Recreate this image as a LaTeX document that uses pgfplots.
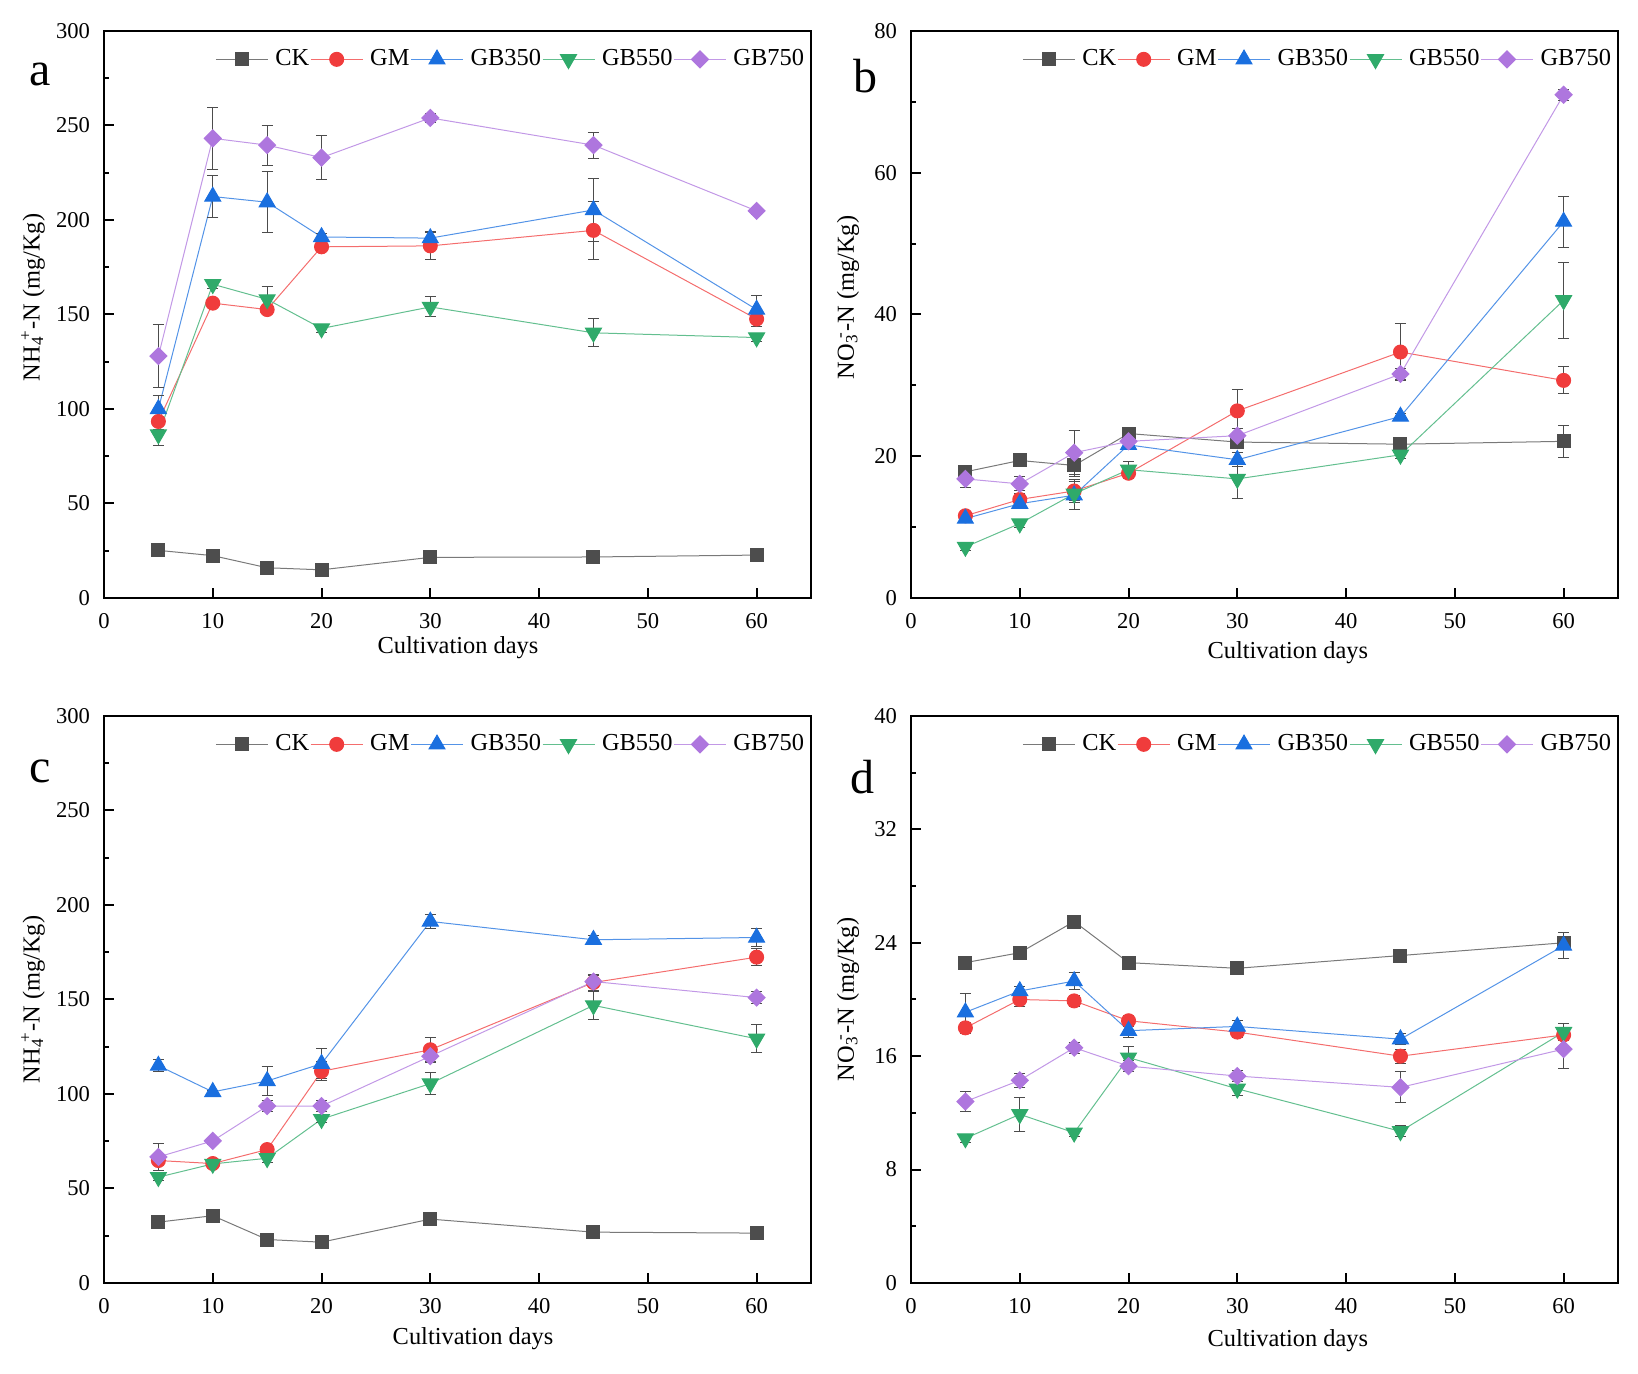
\documentclass[border=0pt]{standalone}
\usepackage{fontspec}
\setmainfont{Liberation Serif}
\usepackage{pgfplots}
\pgfplotsset{compat=1.18}
\usepackage{pgfplotstable}

\definecolor{ckc}{HTML}{4D4D4D}
\definecolor{gmc}{HTML}{F03C3C}
\definecolor{bthc}{HTML}{1A6FDF}
\definecolor{bfic}{HTML}{2FAA6A}
\definecolor{bsec}{HTML}{AE76DE}

\pgfplotstableread{
x  ck   ckE gm    gmE  bth   bthE bfi   bfiE bse   bseE
5  25.2 2   93.4  4    100   7    86.5  5.7  128   16.6
10 22.4 2   156   2    212.4 11.3 166   2    243.2 16.5
15 16   2   152.6 2    209.4 16   158   7    239.6 10.6
20 14.9 2   185.8 2    191   2    142.6 2    233   11.7
30 21.5 2   186.3 7.3  190.4 3.6  154   5.3  254   2.5
45 21.7 2   194.5 15.5 205.3 16.5 140.3 7.5  239.6 6.9
60 22.7 2   147.6 4    152.6 7.5  137.8 2    204.8 2
}\dataA

\pgfplotstableread{
x  ck   ckE gm   gmE bth  bthE bfi  bfiE bse  bseE
5  17.8 0.5 11.6 0.6 11.2 0.6  7.2  0.5  16.8 1.2
10 19.4 0.5 13.9 0.8 13.3 0.7  10.5 0.6  16.1 1.0
15 18.7 1.5 15.1 1.6 14.5 2.0  14.7 1.0  20.5 3.1
20 23.2 0.5 17.6 0.7 21.6 0.6  18.1 1.2  22.1 0.5
30 22.0 0.6 26.4 3.0 19.5 1.0  16.8 2.8  22.9 1.0
45 21.7 0.5 34.7 4.0 25.6 0.5  20.2 0.5  31.6 0.8
60 22.1 2.3 30.7 1.9 53.1 3.6  42.0 5.4  71.0 0.8
}\dataB

\pgfplotstableread{
x  ck   ckE gm    gmE bth   bthE bfi   bfiE bse   bseE
5  32.2 2   64.8  2   115   3    56    2    66.7  7.3
10 35.6 2   63.2  2   101.1 1    63    2    75.2  2
15 23   2   70.6  2   106.9 7.5  66    2    93.6  3
20 21.6 2   112   5   116   8    86.7  2    93.6  3
30 33.8 2   123.4 6.5 191.3 3.5  105.5 6    120   3
45 26.9 2   159   4   181.6 2    146.9 7.5  159.5 3
60 26.4 2   172.4 4.5 182.8 4.8  129.2 7.5  151   3
}\dataC

\pgfplotstableread{
x  ck   ckE gm   gmE bth  bthE bfi  bfiE bse  bseE
5  22.6 0.3 18.0 0.4 19.1 1.3  10.2 0.3  12.8 0.7
10 23.3 0.3 20.0 0.5 20.6 0.3  11.9 1.2  14.3 0.5
15 25.5 0.3 19.9 0.4 21.3 0.6  10.6 0.3  16.6 0.4
20 22.6 0.3 18.5 0.4 17.8 0.5  15.9 0.8  15.3 0.4
30 22.2 0.3 17.7 0.4 18.1 0.4  13.7 0.5  14.6 0.4
45 23.1 0.3 16.0 0.5 17.2 0.4  10.7 0.4  13.8 1.1
60 24.0 0.3 17.5 0.4 23.8 0.9  17.7 0.6  16.5 1.4
}\dataD

\newcommand{\fs}{\fontsize{11.3}{13.5}\selectfont}
\newcommand{\fl}{\fontsize{12.2}{14.5}\selectfont}

\pgfplotsset{
  panel/.style={
    scale only axis, width=353.5pt, height=283.5pt,
    clip=false,
    xmin=0, xmax=65, xtick={0,10,...,60},
    axis line style={line width=1pt},
    tick style={line width=1pt, black},
    major tick length=5pt, minor tick length=2.5pt,
    tick align=inside, xtick pos=bottom, ytick pos=left,
    minor y tick num=1,
    tick label style={font=\fs},
    /pgf/number format/assume math mode=true,
    yticklabel style={xshift=-3.5pt},
    xticklabel style={yshift=-4pt},
    label style={font=\fl},
    xlabel={Cultivation days},
    legend style={draw=none, fill=none, legend columns=-1,
      at={(axis description cs:1.0,0.95)}, anchor=east,
      inner sep=0pt, outer sep=0pt, font=\fl,
      nodes={inner xsep=3.5pt, inner ysep=1pt},
      /tikz/every even column/.append style={column sep=-3pt}},
    legend image code/.code={\draw[mark repeat=2,mark phase=2,##1] plot coordinates {(0pt,0pt) (13pt,0pt) (26pt,0pt)};},
    legend entries={CK,GM,GB350,GB550,GB750},
  },
  ebar/.style={forget plot, draw=none, mark=none,
    error bars/.cd, y dir=both, y explicit,
    error bar style={draw=black!70, line width=0.5pt, solid},
    error mark options={draw=black!70, line width=0.5pt, mark size=2.75pt, rotate=90}},
}

\newcommand{\series}[1]{%
  \addplot[draw=ckc!75!white, line width=0.5pt, mark=square*, mark size=3.25pt, mark options={fill=ckc, draw=ckc}] table[x=x,y=ck]{#1};
  \addplot[draw=gmc!75!white, line width=0.5pt, mark=*, mark size=3.5pt, mark options={fill=gmc, draw=gmc}] table[x=x,y=gm]{#1};
  \addplot[draw=bthc!75!white, line width=0.5pt, mark=triangle*, mark size=4.6pt, mark options={fill=bthc, draw=bthc}] table[x=x,y=bth]{#1};
  \addplot[draw=bfic!75!white, line width=0.5pt, mark=triangle*, mark size=4.6pt, mark options={fill=bfic, draw=bfic, rotate=180}] table[x=x,y=bfi]{#1};
  \addplot[draw=bsec!75!white, line width=0.5pt, mark=square*, mark size=3pt, mark options={fill=bsec, draw=bsec, rotate=45}] table[x=x,y=bse]{#1};
  \addplot[ebar] table[x=x,y=ck,y error=ckE]{#1};
  \addplot[ebar] table[x=x,y=gm,y error=gmE]{#1};
  \addplot[ebar] table[x=x,y=bth,y error=bthE]{#1};
  \addplot[ebar] table[x=x,y=bfi,y error=bfiE]{#1};
  \addplot[ebar] table[x=x,y=bse,y error=bseE]{#1};
}

\begin{document}
\begin{tikzpicture}
\path[use as bounding box] (0pt,0pt) rectangle (819pt,687pt);

% panel a
\begin{axis}[panel, at={(52pt,388pt)}, anchor=south west,
  ymin=0, ymax=300, ytick={0,50,...,300},
  ylabel={NH\textsubscript{4}\kern-0.28em\textsuperscript{\,+}-N (mg/Kg)},
  ylabel style={at={(axis description cs:-0.1004,0.53)}, anchor=center},
  xlabel style={at={(axis description cs:0.5007,-0.0882)}, anchor=center}]
\series{\dataA}
\node[font=\fontsize{24}{28}\selectfont] at (axis description cs:-0.0905,0.924) {a};
\end{axis}

% panel b
\begin{axis}[panel, at={(455.5pt,388pt)}, anchor=south west,
  ymin=0, ymax=80, ytick={0,20,...,80},
  ylabel={NO\textsubscript{3}\kern-0.28em\textsuperscript{\,-}-N (mg/Kg)},
  ylabel style={at={(axis description cs:-0.0891,0.53)}, anchor=center},
  xlabel style={at={(axis description cs:0.533,-0.097)}, anchor=center}]
\series{\dataB}
\node[font=\fontsize{24}{28}\selectfont] at (axis description cs:-0.065,0.92) {b};
\end{axis}

% panel c
\begin{axis}[panel, at={(52pt,45.5pt)}, anchor=south west,
  ymin=0, ymax=300, ytick={0,50,...,300},
  ylabel={NH\textsubscript{4}\kern-0.28em\textsuperscript{\,+}-N (mg/Kg)},
  ylabel style={at={(axis description cs:-0.1004,0.5)}, anchor=center},
  xlabel style={at={(axis description cs:0.522,-0.0988)}, anchor=center}]
\series{\dataC}
\node[font=\fontsize{24}{28}\selectfont] at (axis description cs:-0.091,0.902) {c};
\end{axis}

% panel d
\begin{axis}[panel, at={(455.5pt,45.5pt)}, anchor=south west,
  ymin=0, ymax=40, ytick={0,8,...,40},
  ylabel={NO\textsubscript{3}\kern-0.28em\textsuperscript{\,-}-N (mg/Kg)},
  ylabel style={at={(axis description cs:-0.0891,0.5)}, anchor=center},
  xlabel style={at={(axis description cs:0.533,-0.102)}, anchor=center}]
\series{\dataD}
\node[font=\fontsize{24}{28}\selectfont] at (axis description cs:-0.068,0.893) {d};
\end{axis}
\end{tikzpicture}
\end{document}
